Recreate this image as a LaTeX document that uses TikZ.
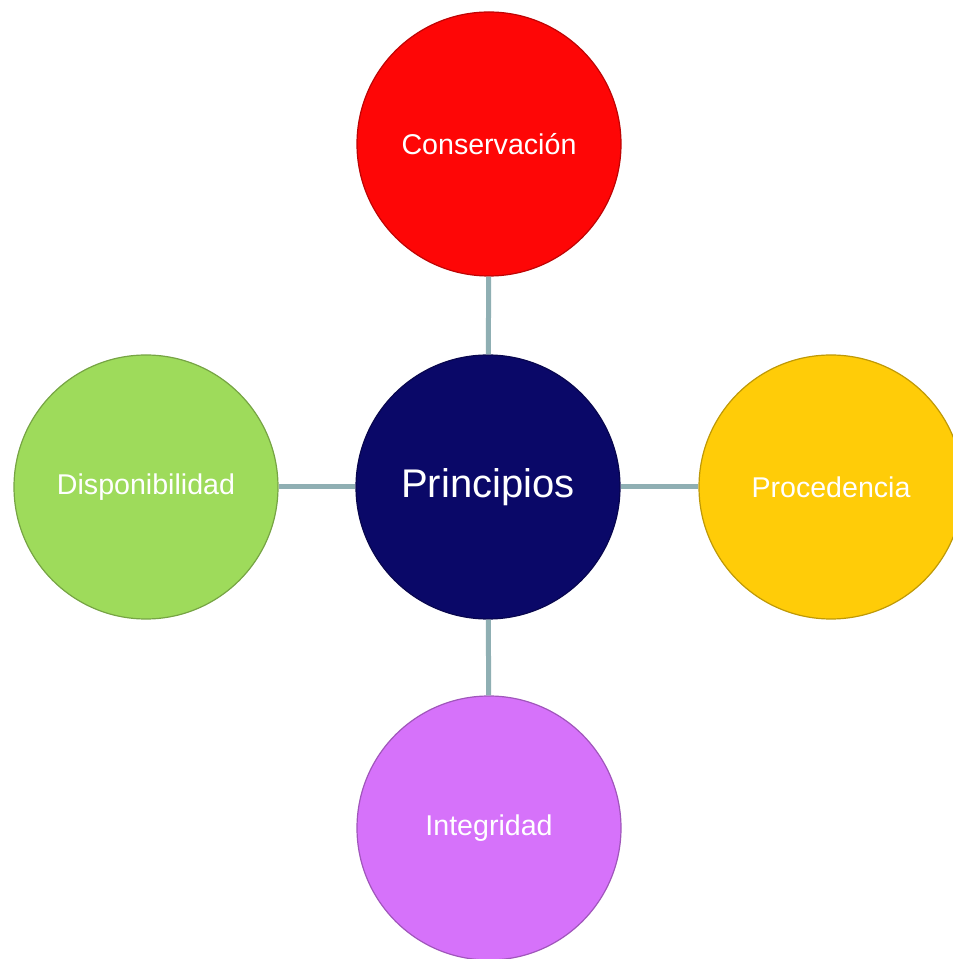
\documentclass[tikz,border=0pt]{standalone}
\usepackage{fontspec}
\setmainfont{Liberation Sans}
\usetikzlibrary{positioning}
\definecolor{rojo}{RGB}{254,6,6}
\definecolor{marino}{RGB}{10,8,104}
\definecolor{amarillo}{RGB}{255,204,8}
\definecolor{verde}{RGB}{158,219,91}
\definecolor{morado}{RGB}{214,114,250}
\definecolor{enlace}{RGB}{143,175,179}
\tikzset{
  bola/.style={circle,minimum size=264pt,inner sep=0pt,draw=#1!75!black,line width=1.2pt,
    fill=#1,text=white,font=\fontsize{28.6}{30}\selectfont},
  enlace/.style={draw=enlace,line width=5pt}
}

\begin{document}
\begin{tikzpicture}[x=1pt,y=1pt]
\clip(0,0)rectangle(953,959);
\useasboundingbox(0,0)rectangle(953,959);
\node[bola=marino,font=\fontsize{40}{42}\selectfont](prin)at(488,472){Principios};
\node[bola=rojo](cons)at(489,815){Conservación};
\node[bola=morado](inte)at(489,131){Integridad};
\node[bola=verde](disp)at(146,472){Disponibilidad};
\node[bola=amarillo](proc)at(831,472){Procedencia};
\draw[enlace](prin)--(cons);
\draw[enlace](prin)--(inte);
\draw[enlace](prin)--(disp);
\draw[enlace](prin)--(proc);
\end{tikzpicture}
\end{document}
